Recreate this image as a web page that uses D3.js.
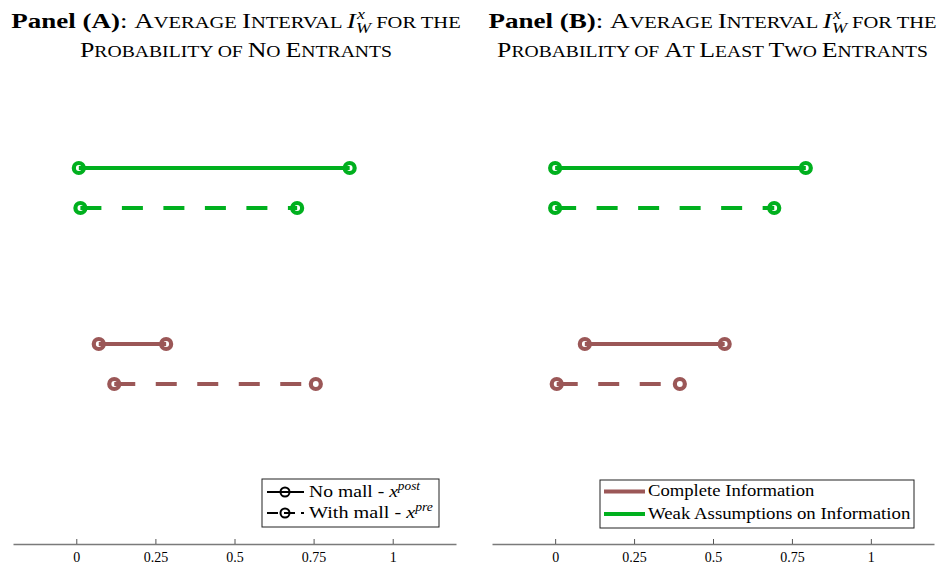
<!DOCTYPE html>
<html>
<head>
<meta charset="utf-8">
<script src="https://cdn.jsdelivr.net/npm/d3@7"></script>
<style>
  html, body { margin: 0; padding: 0; background: #fff; }
  svg { display: block; }
  text { font-family: "Liberation Serif", "DejaVu Serif", serif; fill: #000; }
</style>
</head>
<body>
<svg id="chart" width="943" height="567"></svg>
<script>
// Interval endpoints [lower, upper] for each panel and row
const rows = ["weakPost", "weakPre", "completePost", "completePre"];
const rowLevel = [9.4, 8.4, 5, 4];           // vertical position of each row
const rowInfo = ["weak", "weak", "complete", "complete"];
const rowDashed = [false, true, false, true];

const panelALower = [0.008, 0.013, 0.071, 0.120];
const panelAUpper = [0.864, 0.698, 0.284, 0.757];
const panelBLower = [0.000, 0.000, 0.094, 0.005];
const panelBUpper = [0.794, 0.694, 0.537, 0.395];

const tickValues = [0, 0.25, 0.5, 0.75, 1];
const tickLabels = ["0", "0.25", "0.5", "0.75", "1"];

const colors = { complete: "#9b5757", weak: "#00b01e" };

const svg = d3.select("#chart");
const axisY = 544;
const y = d3.scaleLinear().domain([0, 12]).range([axisY, axisY - 480]);

// stretch a text element horizontally about ax so that it spans `width`
function fitWidth(sel, width, ax) {
  const w = sel.node().getBBox().width;
  const s = width / w;
  sel.attr("transform", `translate(${ax},0) scale(${s},1) translate(${-ax},0)`);
}

// small caps built from full-size capitals and reduced-size capitals
function smallCaps(parent, str, size) {
  const runs = str.match(/[A-Z]+|[^A-Z]+/g) || [];
  runs.forEach(r => {
    const upper = /^[A-Z]/.test(r);
    parent.append("tspan").attr("font-size", upper ? size : size * 0.76).text(r.toUpperCase());
  });
}

function drawPanel(cfg) {
  const x = d3.scaleLinear().domain([-0.2, 1.2]).range([cfg.x0, cfg.x1]);
  const g = svg.append("g");

  // axis: ticks pointing up into the plot
  const axis = d3.axisBottom(x).tickValues(tickValues)
    .tickFormat((d, i) => tickLabels[i]).tickSizeInner(-5).tickSizeOuter(0).tickPadding(5);
  const ag = g.append("g").attr("transform", `translate(0,${axisY})`).call(axis);
  ag.select(".domain").attr("stroke", "#7a7a7a").attr("stroke-width", 1.6);
  ag.selectAll(".tick line").attr("stroke", "#555").attr("stroke-width", 1);
  ag.selectAll(".tick text").attr("font-family", "Liberation Serif, serif")
    .attr("font-size", 14).attr("fill", "#222").attr("dy", "0.9em");

  const data = rows.map((r, i) => ({
    lo: cfg.lower[i], hi: cfg.upper[i], level: rowLevel[i],
    color: colors[rowInfo[i]], dashed: rowDashed[i]
  }));

  g.selectAll("line.iv").data(data).join("line")
    .attr("class", "iv")
    .attr("x1", d => x(d.lo)).attr("x2", d => x(d.hi))
    .attr("y1", d => y(d.level)).attr("y2", d => y(d.level))
    .attr("stroke", d => d.color).attr("stroke-width", 4.2)
    .attr("stroke-dasharray", d => d.dashed ? "21 20.5" : null);

  const ends = data.flatMap(d => [{ v: d.lo, d }, { v: d.hi, d }]);
  g.selectAll("circle.end").data(ends).join("circle")
    .attr("class", "end")
    .attr("cx", e => x(e.v)).attr("cy", e => y(e.d.level))
    .attr("r", 5).attr("fill", "none")
    .attr("stroke", e => e.d.color).attr("stroke-width", 4.2);

  // two-line title
  const fs = 21;
  const t1 = g.append("text").attr("text-anchor", "middle").attr("x", cfg.cx).attr("y", 28).attr("font-size", fs);
  t1.append("tspan").attr("font-weight", "bold").text(cfg.tag);
  t1.append("tspan").text(": ");
  smallCaps(t1, "Average Interval ", fs);
  t1.append("tspan").attr("font-style", "italic").text("I");
  t1.append("tspan").attr("font-style", "italic").attr("font-size", 14).attr("dy", -9).attr("dx", 1).text("x");
  t1.append("tspan").attr("font-style", "italic").attr("font-size", 14).attr("dy", 14).attr("dx", -7).text("W");
  const rest = t1.append("tspan").attr("dy", -5);
  smallCaps(rest, " for the", fs);
  fitWidth(t1, cfg.w1, cfg.cx);

  const t2 = g.append("text").attr("text-anchor", "middle").attr("x", cfg.cx).attr("y", 57).attr("font-size", fs);
  smallCaps(t2, cfg.line2, fs);
  fitWidth(t2, cfg.w2, cfg.cx);

  return g;
}

drawPanel({ x0: 13, x1: 456, cx: 236, w1: 448, w2: 312, lower: panelALower, upper: panelAUpper,
  tag: "Panel (A)", line2: "Probability of No Entrants" });
drawPanel({ x0: 492, x1: 934, cx: 712.5, w1: 447, w2: 431, lower: panelBLower, upper: panelBUpper,
  tag: "Panel (B)", line2: "Probability of At Least Two Entrants" });

// Legend A: line style
const la = svg.append("g").attr("transform", "translate(262,479)");
la.append("rect").attr("width", 177).attr("height", 48).attr("fill", "#fff")
  .attr("stroke", "#222").attr("stroke-width", 1);
const styles = [
  { dash: null, label: "No mall - ", sup: "post", w: 112 },
  { dash: "11 6", label: "With mall - ", sup: "pre", w: 124 }
];
styles.forEach((s, i) => {
  const yy = 13 + i * 21;
  la.append("line").attr("x1", 5).attr("x2", 42).attr("y1", yy).attr("y2", yy)
    .attr("stroke", "#000").attr("stroke-width", 2).attr("stroke-dasharray", s.dash);
  la.append("circle").attr("cx", 23).attr("cy", yy).attr("r", 4.5)
    .attr("fill", "none").attr("stroke", "#000").attr("stroke-width", 2);
  const tx = la.append("text").attr("x", 47).attr("y", yy + 5).attr("font-size", 17);
  tx.append("tspan").text(s.label);
  tx.append("tspan").attr("font-style", "italic").text("x");
  tx.append("tspan").attr("font-style", "italic").attr("font-size", 11.5).attr("dy", -7).text(s.sup);
  fitWidth(tx, s.w, 47);
});

// Legend B: information assumption colours
const lb = svg.append("g").attr("transform", "translate(600,480)");
lb.append("rect").attr("width", 314).attr("height", 48).attr("fill", "#fff")
  .attr("stroke", "#222").attr("stroke-width", 1);
const infoKeys = ["complete", "weak"];
const infoLabels = ["Complete Information", "Weak Assumptions on Information"];
const infoWidths = [167, 263];
infoKeys.forEach((k, i) => {
  const yy = 11.5 + i * 22.5;
  lb.append("line").attr("x1", 4).attr("x2", 45).attr("y1", yy).attr("y2", yy)
    .attr("stroke", colors[k]).attr("stroke-width", 4.2);
  const tx = lb.append("text").attr("x", 48).attr("y", yy + 5).attr("font-size", 17).text(infoLabels[i]);
  fitWidth(tx, infoWidths[i], 48);
});
</script>
</body>
</html>
